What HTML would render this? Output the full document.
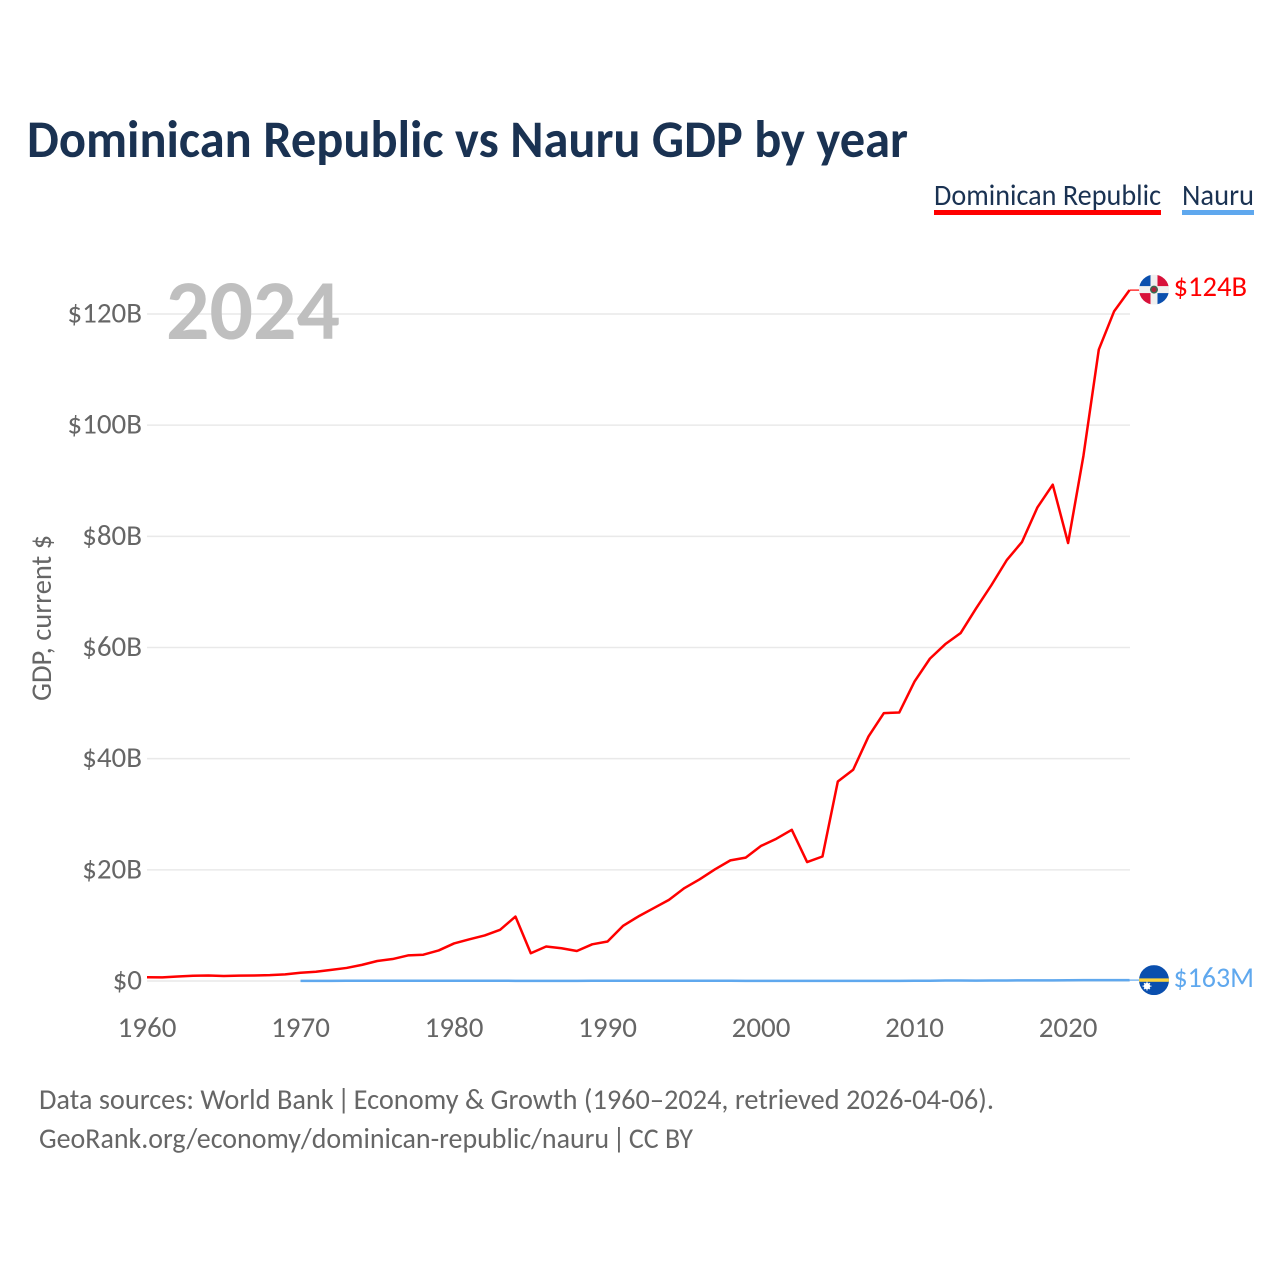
<!DOCTYPE html>
<html lang="en">
<head>
<meta charset="utf-8">
<title>Dominican Republic vs Nauru GDP by year</title>
<style>
html,body{margin:0;padding:0;background:#fff;width:1280px;height:1280px;overflow:hidden}
svg{display:block}
text{font-family:"Carlito","Lato","Liberation Sans",sans-serif}
</style>
</head>
<body>
<svg id="chart" xmlns="http://www.w3.org/2000/svg" width="1280" height="1280" viewBox="0 0 1280 1280">
  <text x="27" y="157" font-size="53" font-weight="700" fill="#1a3252" textLength="881" lengthAdjust="spacingAndGlyphs">Dominican Republic vs Nauru GDP by year</text>

  <g>
    <g>
      <text x="934" y="205" font-size="30" fill="#1a3252" textLength="227" lengthAdjust="spacingAndGlyphs">Dominican Republic</text>
      <rect x="934" y="210" width="227" height="5" fill="#ff0000"/>
    </g>
    <g>
      <text x="1182" y="205" font-size="30" fill="#1a3252" textLength="72" lengthAdjust="spacingAndGlyphs">Nauru</text>
      <rect x="1182" y="210" width="72" height="5" fill="#5fa8ee"/>
    </g>
  </g>

  <g id="grid"></g>
  <text x="166" y="339" font-size="85" font-weight="700" fill="#bfbfbf" textLength="174" lengthAdjust="spacingAndGlyphs">2024</text>
  <g id="yticks"></g>
  <g id="xticks"></g>
  <text transform="translate(51,618) rotate(-90)" text-anchor="middle" font-size="29" fill="#666666" textLength="166" lengthAdjust="spacingAndGlyphs">GDP, current $</text>
  <g id="series"></g>

  <g id="flag-dr">
    <clipPath id="clip-dr"><circle cx="0" cy="0" r="15"/></clipPath>
    <g clip-path="url(#clip-dr)">
      <rect x="-15" y="-15" width="30" height="30" fill="#f0f0f0"/>
      <rect x="-15" y="-15" width="11.5" height="11.5" fill="#0a4fae"/>
      <rect x="3.5" y="-15" width="11.5" height="11.5" fill="#d8113a"/>
      <rect x="-15" y="3.5" width="11.5" height="11.5" fill="#d8113a"/>
      <rect x="3.5" y="3.5" width="11.5" height="11.5" fill="#0a4fae"/>
      <circle cx="0" cy="0" r="4" fill="#3a6b50"/>
      <circle cx="0" cy="0" r="2.5" fill="#a8243c"/>
    </g>
  </g>
  <g id="flag-nr">
    <clipPath id="clip-nr"><circle cx="0" cy="0" r="15"/></clipPath>
    <g clip-path="url(#clip-nr)">
      <rect x="-15" y="-15" width="30" height="30" fill="#0a4fae"/>
      <rect x="-15" y="-1.7" width="30" height="3.4" fill="#fbd33f"/>
      <circle cx="-7" cy="6" r="3.2" fill="#ffffff"/>
      <path d="M-7 1.5V10.5M-11.5 6H-2.5M-10 3L-4 9M-10 9L-4 3" stroke="#ffffff" stroke-width="1"/>
    </g>
  </g>

  <text x="1173.5" y="296" font-size="29" fill="#ff0000" textLength="73.5" lengthAdjust="spacingAndGlyphs">$124B</text>
  <text x="1173.5" y="987" font-size="29" fill="#5fa8ee" textLength="80.5" lengthAdjust="spacingAndGlyphs">$163M</text>

  <g>
    <text x="39" y="1109" font-size="29" fill="#666666" textLength="955" lengthAdjust="spacingAndGlyphs">Data sources: World Bank <tspan dx="-3">|</tspan><tspan dx="-3"> Economy &amp; Growth (1960–2024, retrieved 2026-04-06).</tspan></text>
    <text x="39" y="1148" font-size="29" fill="#666666" textLength="654" lengthAdjust="spacingAndGlyphs">GeoRank.org/economy/dominican-republic/nauru <tspan dx="-3">|</tspan><tspan dx="-3"> CC BY</tspan></text>
  </g>
</svg>
<script>
// GDP, billions of current US$
const drStartYear = 1960;
const drValues = [0.67,0.65,0.82,0.94,1.0,0.89,0.97,1.0,1.05,1.2,1.49,1.67,2.0,2.35,2.9,3.6,3.95,4.6,4.73,5.5,6.76,7.5,8.2,9.2,11.6,5.0,6.2,5.9,5.4,6.6,7.1,9.9,11.6,13.1,14.6,16.7,18.3,20.1,21.7,22.2,24.3,25.6,27.2,21.4,22.4,35.9,38.0,44.0,48.2,48.3,53.9,58.0,60.6,62.6,67.0,71.2,75.7,79.0,85.2,89.3,78.8,94.5,113.6,120.5,124.3];
const nauruStartYear = 1970;
const nauruValues = [0.03,0.03,0.03,0.04,0.04,0.04,0.04,0.04,0.04,0.04,0.04,0.04,0.05,0.04,0.03,0.03,0.03,0.03,0.03,0.04,0.05,0.04,0.04,0.04,0.04,0.04,0.04,0.04,0.04,0.03,0.03,0.03,0.02,0.03,0.03,0.03,0.03,0.03,0.03,0.03,0.04,0.05,0.09,0.08,0.07,0.09,0.10,0.11,0.12,0.12,0.13,0.15,0.15,0.16,0.163];
const yTickValues = [0,20,40,60,80,100,120];
const yTickLabels = ["$0","$20B","$40B","$60B","$80B","$100B","$120B"];
const xTickValues = [1960,1970,1980,1990,2000,2010,2020];
const xTickLabels = ["1960","1970","1980","1990","2000","2010","2020"];

const NS = "http://www.w3.org/2000/svg";
function xScale(year){ return 147 + (year - 1960) * (1129.5 - 147) / 64; }
function yScale(v){ return 981 - v * (981 - 314) / 120; }

function makeEl(tag, attrs, parent){
  const el = document.createElementNS(NS, tag);
  for (const k in attrs) el.setAttribute(k, attrs[k]);
  parent.appendChild(el);
  return el;
}

const grid = document.getElementById("grid");
const yticks = document.getElementById("yticks");
const xticks = document.getElementById("xticks");
const series = document.getElementById("series");

yTickValues.forEach(function(v, i){
  const line = makeEl("line", {x1:147, x2:1130, y1:yScale(v), y2:yScale(v), stroke:"#e9e9e9", "stroke-width":1.5}, grid);
  
  
  const label = makeEl("text", {x:142, y:yScale(v) + 8.5, "text-anchor":"end", "font-size":29, fill:"#666666"}, yticks);
  
  
  label.textContent = yTickLabels[i];
});

xTickValues.forEach(function(t, i){
  const label = makeEl("text", {x:xScale(t), y:1037, "text-anchor":"middle", "font-size":29, fill:"#666666"}, xticks);
  
  
  label.textContent = xTickLabels[i];
});

function pointsFor(values, start){
  return values.map(function(v, i){
    return xScale(start + i).toFixed(2) + "," + yScale(v).toFixed(2);
  }).join(" ");
}

const nauruLine = makeEl("polyline", {points:pointsFor(nauruValues, nauruStartYear), fill:"none", stroke:"#5fa8ee", "stroke-width":2.5, "stroke-linejoin":"round"}, series);


const drLine = makeEl("polyline", {points:pointsFor(drValues, drStartYear), fill:"none", stroke:"#ff0000", "stroke-width":2.5, "stroke-linejoin":"round"}, series);



const drEndY = yScale(drValues[drValues.length - 1]);
const nauruEndY = yScale(nauruValues[nauruValues.length - 1]);
const drLead = makeEl("line", {x1:xScale(2024), x2:1140, y1:drEndY, y2:drEndY, stroke:"#ff0000", "stroke-width":1.2}, series);


const nauruLead = makeEl("line", {x1:xScale(2024), x2:1140, y1:nauruEndY, y2:nauruEndY, stroke:"#5fa8ee", "stroke-width":1.2}, series);



document.getElementById("flag-dr").setAttribute("transform", "translate(1154," + (drEndY - 0.5) + ")");
document.getElementById("flag-nr").setAttribute("transform", "translate(1154," + nauruEndY + ")");
</script>
</body>
</html>
